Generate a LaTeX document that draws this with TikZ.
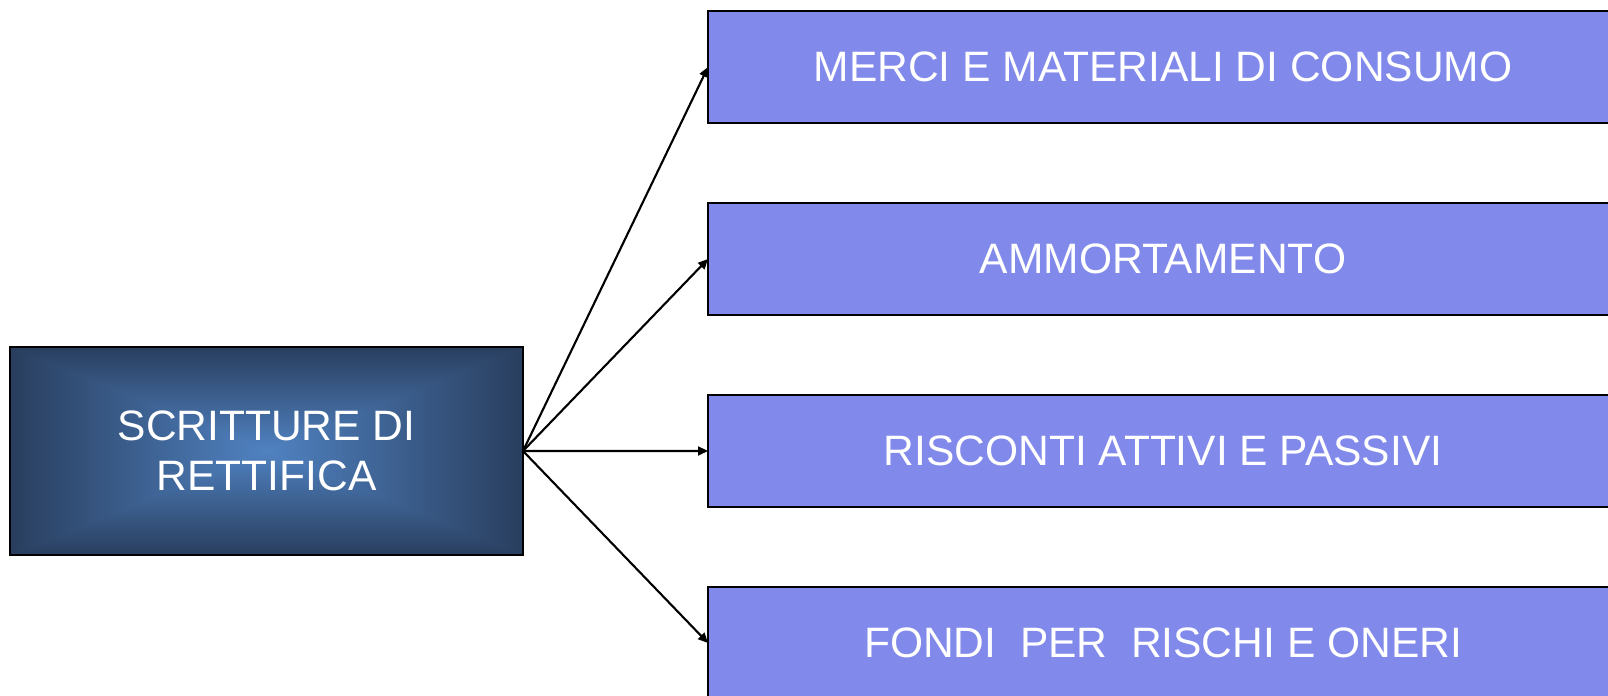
\documentclass[tikz,border=0pt]{standalone}
\usepackage{fontspec}
\setmainfont{Liberation Sans}
\usetikzlibrary{positioning,arrows.meta,backgrounds}
\definecolor{destfill}{RGB}{129,137,234}
\definecolor{srcdark}{RGB}{41,62,94}
\definecolor{srclight}{RGB}{80,130,193}
\tikzset{
  srcbox/.style={draw,line width=0.6pt,minimum width=5.13cm,minimum height=2.08cm,inner sep=0pt,outer sep=0pt,
    text=white,align=center,font=\fontsize{12.1}{14.2}\selectfont},
  destbox/.style={draw,line width=0.6pt,fill=destfill,minimum width=9.1cm,minimum height=1.12cm,inner sep=0pt,outer sep=0pt,
    text=white,font=\fontsize{12.1}{14.2}\selectfont},
  link/.style={line width=0.6pt,-{Triangle[length=1mm,width=0.9mm]}}
}
\begin{document}
\begin{tikzpicture}
  \useasboundingbox (0,0) rectangle (16.08,6.96);
  \node[srcbox] (scritture) at (2.665,2.45) {SCRITTURE DI\\RETTIFICA};
  \begin{scope}[on background layer]
    \shade[left color=srcdark,right color=srcdark,middle color=srclight] (scritture.north west) rectangle (scritture.south east);
    \shade[top color=srcdark,bottom color=srclight] (scritture.north west) -- (scritture.north east) -- (scritture.center) -- cycle;
    \shade[top color=srclight,bottom color=srcdark] (scritture.south west) -- (scritture.south east) -- (scritture.center) -- cycle;
  \end{scope}
  \node[destbox,anchor=west] (merci) at (7.08,6.29) {MERCI E MATERIALI DI CONSUMO};
  \node[destbox,below=0.8cm of merci] (ammort) {AMMORTAMENTO};
  \node[destbox,below=0.8cm of ammort] (risconti) {RISCONTI ATTIVI E PASSIVI};
  \node[destbox,below=0.8cm of risconti] (fondi) {FONDI\ \ PER\ \ RISCHI E ONERI};
  \foreach \t in {merci,ammort,risconti,fondi}
    \draw[link] (scritture.east) -- (\t.west);
\end{tikzpicture}
\end{document}
